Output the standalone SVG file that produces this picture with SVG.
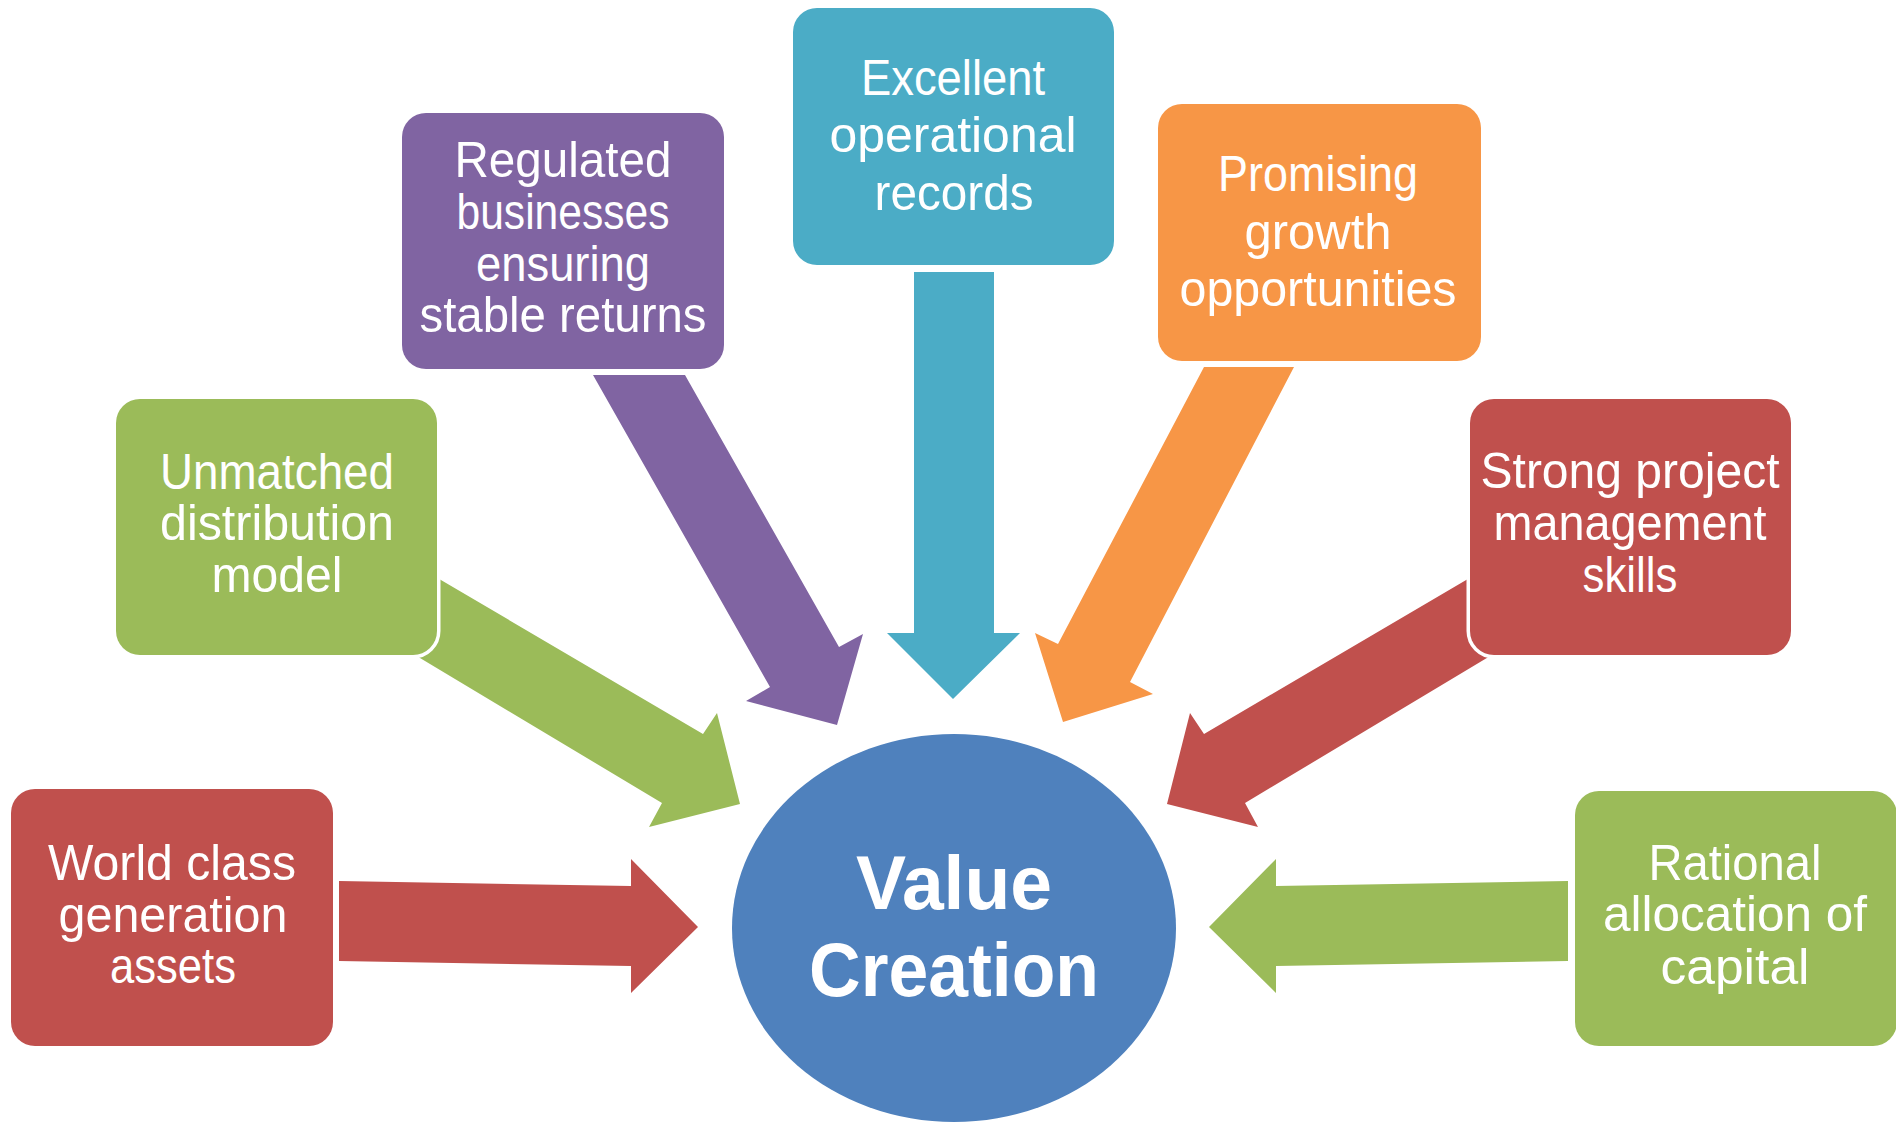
<svg xmlns="http://www.w3.org/2000/svg" width="1896" height="1123" viewBox="0 0 1896 1123">
<style>
.box{stroke:#ffffff;stroke-width:7;paint-order:stroke}
.t{font-family:"Liberation Sans Narrow","Liberation Sans",Arial,sans-serif;font-size:50px;fill:#ffffff;text-anchor:middle}
.c{font-family:"Liberation Sans","Arial",sans-serif;font-weight:bold;font-size:76px;fill:#ffffff;text-anchor:middle}
.red{fill:#C0504D}.green{fill:#9BBB59}.purple{fill:#8064A2}.teal{fill:#4BACC6}.orange{fill:#F79646}.blue{fill:#4F81BD}
</style>
<rect width="1896" height="1123" fill="#ffffff"/>
<g id="connectors">
  <polygon class="red" points="339,881 631,886 631,859 698,927 631,993 631,966 339,961"/>
  <polygon class="green" points="400,556 703,734 717,713 740,804 649,827 662,803 380,634"/>
  <polygon class="purple" points="593,375 685,375 839,647 863,634 837,725 746,701 770,687"/>
  <polygon class="teal" points="914,272 994,272 994,633 1020,633 953,699 887,633 914,633"/>
  <polygon class="orange" points="1204,367 1294,367 1130,682 1153,694 1063,722 1035,633 1058,644"/>
  <polygon class="red" points="1507,556 1204,734 1190,713 1167,804 1258,827 1245,803 1527,634"/>
  <polygon class="green" points="1568,881 1276,886 1276,859 1209,927 1276,993 1276,966 1568,961"/>
</g>
<g id="value-creation">
  <ellipse class="blue" cx="954" cy="928" rx="222" ry="194"/>
  <text class="c" x="954" y="909" textLength="196" lengthAdjust="spacingAndGlyphs">Value</text>
  <text class="c" x="954" y="996" textLength="290" lengthAdjust="spacingAndGlyphs">Creation</text>
</g>
<g id="world-class">
  <rect class="box red" x="11" y="789" width="322" height="257" rx="24"/>
  <text class="t" x="172" y="880" textLength="248" lengthAdjust="spacingAndGlyphs">World class</text>
  <text class="t" x="173" y="932" textLength="229" lengthAdjust="spacingAndGlyphs">generation</text>
  <text class="t" x="173" y="983" textLength="126" lengthAdjust="spacingAndGlyphs">assets</text>
</g>
<g id="unmatched">
  <rect class="box green" x="116" y="399" width="321" height="256" rx="24"/>
  <text class="t" x="277" y="489" textLength="234" lengthAdjust="spacingAndGlyphs">Unmatched</text>
  <text class="t" x="277" y="540" textLength="234" lengthAdjust="spacingAndGlyphs">distribution</text>
  <text class="t" x="277" y="592" textLength="131" lengthAdjust="spacingAndGlyphs">model</text>
</g>
<g id="regulated">
  <rect class="box purple" x="402" y="113" width="322" height="256" rx="24"/>
  <text class="t" x="563" y="177" textLength="217" lengthAdjust="spacingAndGlyphs">Regulated</text>
  <text class="t" x="563" y="229" textLength="213" lengthAdjust="spacingAndGlyphs">businesses</text>
  <text class="t" x="563" y="281" textLength="174" lengthAdjust="spacingAndGlyphs">ensuring</text>
  <text class="t" x="563" y="332" textLength="287" lengthAdjust="spacingAndGlyphs">stable returns</text>
</g>
<g id="excellent">
  <rect class="box teal" x="793" y="8" width="321" height="257" rx="24"/>
  <text class="t" x="953" y="95" textLength="184" lengthAdjust="spacingAndGlyphs">Excellent</text>
  <text class="t" x="953" y="152" textLength="247" lengthAdjust="spacingAndGlyphs">operational</text>
  <text class="t" x="954" y="210" textLength="159" lengthAdjust="spacingAndGlyphs">records</text>
</g>
<g id="promising">
  <rect class="box orange" x="1158" y="104" width="323" height="257" rx="24"/>
  <text class="t" x="1318" y="191" textLength="200" lengthAdjust="spacingAndGlyphs">Promising</text>
  <text class="t" x="1318" y="249" textLength="147" lengthAdjust="spacingAndGlyphs">growth</text>
  <text class="t" x="1318" y="306" textLength="277" lengthAdjust="spacingAndGlyphs">opportunities</text>
</g>
<g id="strong">
  <rect class="box red" x="1470" y="399" width="321" height="256" rx="24"/>
  <text class="t" x="1630" y="488" textLength="299" lengthAdjust="spacingAndGlyphs">Strong project</text>
  <text class="t" x="1630" y="540" textLength="273" lengthAdjust="spacingAndGlyphs">management</text>
  <text class="t" x="1630" y="592" textLength="95" lengthAdjust="spacingAndGlyphs">skills</text>
</g>
<g id="rational">
  <rect class="box green" x="1575" y="791" width="322" height="255" rx="24"/>
  <text class="t" x="1735" y="880" textLength="173" lengthAdjust="spacingAndGlyphs">Rational</text>
  <text class="t" x="1735" y="931" textLength="264" lengthAdjust="spacingAndGlyphs">allocation of</text>
  <text class="t" x="1735" y="984" textLength="149" lengthAdjust="spacingAndGlyphs">capital</text>
</g>
</svg>
